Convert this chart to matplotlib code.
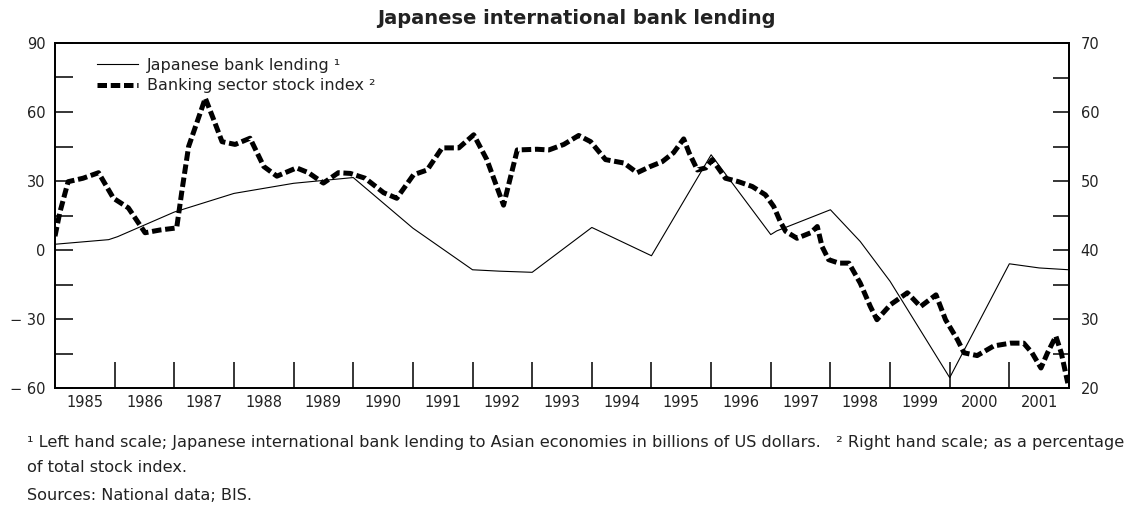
import matplotlib

matplotlib.use("Agg")
from matplotlib import pyplot as plt

# Japanese international bank lending to Asia, USD bn (left scale)
lending_years = [1985.0, 1985.9, 1986.05, 1987.0, 1988.0, 1989.0, 1990.0, 1991.0,
                 1992.0, 1992.45, 1993.0, 1994.0, 1995.0, 1996.0, 1997.0, 1997.1,
                 1998.0, 1998.5, 1999.0, 2000.0, 2001.0, 2001.5, 2002.0]
lending_vals = [2.5, 4.5, 5.8, 16.5, 24.6, 29.0, 31.5, 9.5,
                -8.6, -9.2, -9.7, 9.8, -2.5, 41.4, 6.7, 8.3,
                17.5, 3.7, -13.6, -55.5, -6.0, -7.8, -8.6]

# Banking sector stock index, % of total index (right scale)
index_years = [1985.0, 1985.08, 1985.22, 1985.47, 1985.73, 1985.98, 1986.23, 1986.51,
               1986.76, 1987.04, 1987.13, 1987.24, 1987.52, 1987.66, 1987.8, 1988.02,
               1988.27, 1988.5, 1988.72, 1989.05, 1989.25, 1989.5, 1989.75, 1989.95,
               1990.2, 1990.51, 1990.73, 1991.01, 1991.24, 1991.49, 1991.77, 1992.02,
               1992.24, 1992.52, 1992.75, 1993.08, 1993.28, 1993.53, 1993.78, 1993.98,
               1994.23, 1994.54, 1994.76, 1994.98, 1995.18, 1995.37, 1995.54, 1995.63,
               1995.77, 1995.91, 1996.02, 1996.24, 1996.46, 1996.69, 1996.91, 1997.05,
               1997.16, 1997.25, 1997.44, 1997.67, 1997.78, 1997.86, 1997.97, 1998.14,
               1998.31, 1998.5, 1998.67, 1998.78, 1999.01, 1999.29, 1999.51, 1999.77,
               1999.93, 2000.13, 2000.24, 2000.46, 2000.74, 2001.02, 2001.24, 2001.38,
               2001.53, 2001.64, 2001.78, 2001.87, 2001.98]
index_vals = [42.0, 45.4, 49.9, 50.4, 51.2, 47.5, 46.1, 42.5,
              42.9, 43.2, 48.7, 55.0, 62.0, 58.9, 55.7, 55.3,
              56.2, 52.1, 50.7, 51.9, 51.2, 49.7, 51.2, 51.1,
              50.4, 48.3, 47.5, 50.9, 51.6, 54.8, 54.8, 56.7,
              53.1, 46.5, 54.5, 54.6, 54.5, 55.3, 56.6, 55.7,
              53.1, 52.6, 51.2, 52.1, 52.8, 54.1, 56.1, 54.1,
              51.6, 51.9, 53.1, 50.4, 49.9, 49.2, 48.0, 46.3,
              44.1, 42.7, 41.7, 42.5, 43.4, 40.5, 38.6, 38.1,
              38.1, 35.2, 31.8, 29.9, 32.1, 33.8, 31.8, 33.5,
              29.9, 27.0, 25.1, 24.7, 26.1, 26.5, 26.5, 25.1,
              22.9, 25.1, 27.5, 25.1, 20.7]

year_labels = [str(y) for y in range(1985, 2002)]
left_ticks = [-60, -30, 0, 30, 60, 90]
left_labels = ["\u2212 60", "\u2212 30", "0", "30", "60", "90"]
right_ticks = [20, 30, 40, 50, 60, 70]

TXT = "#222222"
W, H = 1143, 507

fig = plt.figure(figsize=(W / 100, H / 100), dpi=100)
ax = fig.add_axes([55 / W, 1 - 388 / H, (1069 - 55) / W, (388 - 43) / H])
ax2 = ax.twinx()

(l1,) = ax.plot(lending_years, lending_vals, color="black", linewidth=0.8,
                label="Japanese bank lending \u00b9")
(l2,) = ax2.plot(index_years, index_vals, color="black", linewidth=3.6,
                 label="Banking sector stock index \u00b2")
l2.set_dashes([1.9, 0.75])
l2.set_dash_capstyle("butt")

ax.set_xlim(1985, 2002)
ax.set_ylim(-60, 90)
ax2.set_ylim(20, 70)

# year boundaries as ticks, labels in the middle of each year
ax.set_xticks(range(1986, 2002), labels=[""] * 16)
ax.set_xticks([y + 0.5 for y in range(1985, 2002)], labels=year_labels, minor=True)
ax.tick_params(axis="x", which="major", direction="in", length=19, width=1.1)
ax.tick_params(axis="x", which="minor", length=0, pad=5, labelsize=10.5, labelcolor=TXT)

ax.set_yticks(left_ticks, labels=left_labels)
ax.set_yticks([-45, -15, 15, 45, 75], minor=True)
ax.tick_params(axis="y", which="both", direction="in", length=13, width=1.1,
               pad=7, labelsize=10.5, labelcolor=TXT)

ax2.set_yticks(right_ticks)
ax2.set_yticks([25, 35, 45, 55, 65], minor=True)
ax2.tick_params(axis="y", which="both", direction="in", length=11.5, width=1.1,
                pad=8.5, labelsize=10.5, labelcolor=TXT)

for a in (ax, ax2):
    for s in a.spines.values():
        s.set_linewidth(1.3)

leg = ax2.legend(handles=[l1, l2], loc="upper left", frameon=False,
                 bbox_to_anchor=(97 / W, 1 - 58 / H), bbox_transform=fig.transFigure,
                 borderpad=0, borderaxespad=0, handlelength=2.55, handletextpad=0.6,
                 labelspacing=0.32, fontsize=11.5)
for t in leg.get_texts():
    t.set_color(TXT)

fig.text(576 / W, 1 - 19 / H, "Japanese international bank lending",
         ha="center", va="center", fontsize=14, fontweight="bold", color=TXT)

foot = ("\u00b9 Left hand scale; Japanese international bank lending to Asian economies "
        "in billions of US dollars.   \u00b2 Right hand scale; as a percentage")
fig.text(27 / W, 1 - 443 / H, foot, ha="left", va="center", fontsize=11.65, color=TXT)
fig.text(27 / W, 1 - 468 / H, "of total stock index.", ha="left", va="center",
         fontsize=11.65, color=TXT)
fig.text(27 / W, 1 - 495 / H, "Sources: National data; BIS.", ha="left", va="center",
         fontsize=11.65, color=TXT)

fig.savefig("out.png", dpi=100)
